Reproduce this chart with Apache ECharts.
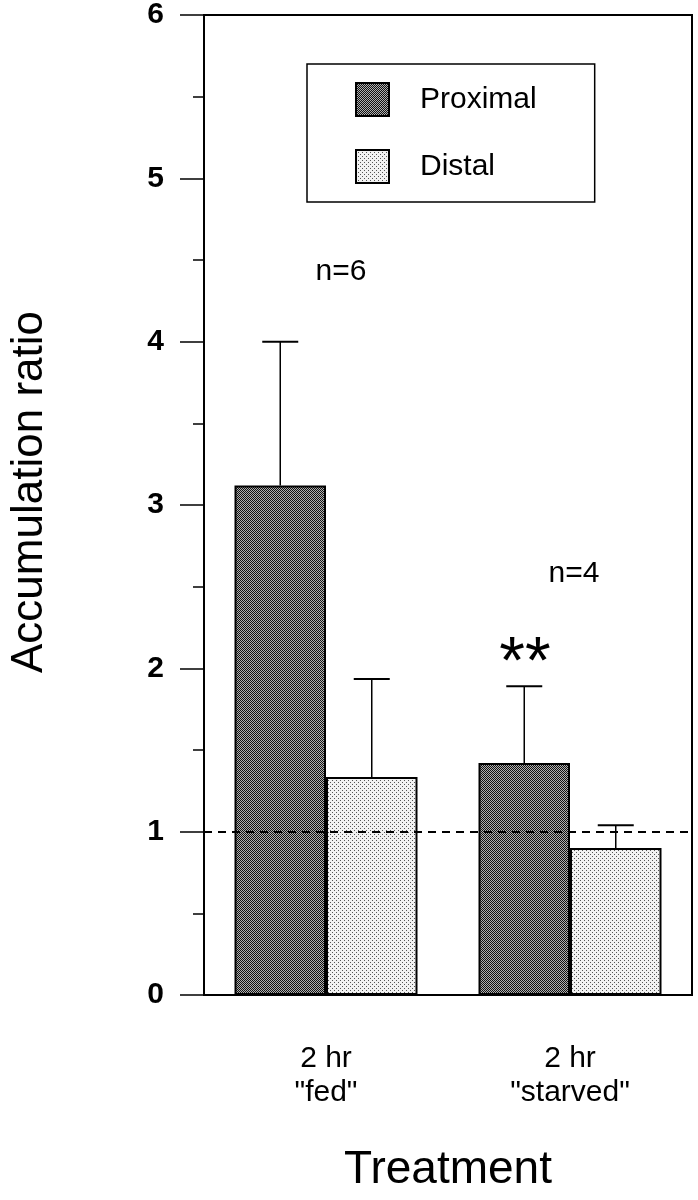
<!DOCTYPE html>
<html>
<head>
<meta charset="utf-8">
<script src="https://cdn.jsdelivr.net/npm/echarts@6/dist/echarts.min.js"></script>
<style>
  html, body { margin: 0; padding: 0; background: #fff; }
  #chart { width: 698px; height: 1200px; }
</style>
</head>
<body>
<div id="chart"></div>
<script>
// data
const categories = ['2 hr\n"fed"', '2 hr\n"starved"'];
const proximal = [3.12, 1.42];
const distal = [1.335, 0.9];
const proximalUpper = [4.0, 1.89];
const distalUpper = [1.935, 1.04];
const yTicks = [0, 1, 2, 3, 4, 5, 6];
const notes = [[0, 4.43, 'n=6'], [1, 2.58, 'n=4']];
const stars = [[1, 2.11, '**']];

const FONT = '"Liberation Sans", Arial, sans-serif';

// halftone-like fills
function makePattern(dark) {
  const c = document.createElement('canvas');
  c.width = 4; c.height = 4;
  const ctx = c.getContext('2d');
  ctx.fillStyle = dark ? '#b0b0b0' : '#f2f2f2';
  ctx.fillRect(0, 0, 4, 4);
  ctx.fillStyle = dark ? '#111' : '#555';
  for (let y = 0; y < 4; y++) {
    for (let x = 0; x < 4; x++) {
      if (dark ? (x + y) % 2 === 0 : (x === 0 && y === 0) || (x === 2 && y === 2)) {
        ctx.fillRect(x, y, 1, 1);
      }
    }
  }
  return { image: c, repeat: 'repeat' };
}

const chart = echarts.init(document.getElementById('chart'));

function errorSeries(name, means, uppers, side) {
  return {
    type: 'custom',
    name: name + ' err',
    silent: true,
    z: 3,
    data: means.map((m, i) => [i, uppers[i], m]),
    encode: { x: 0, y: 1 },
    renderItem(params, api) {
      const band = api.size([1, 0])[0];
      const off = band * 0.1875 * side;
      const top = api.coord([api.value(0), api.value(1)]);
      const base = api.coord([api.value(0), api.value(2)]);
      const x = top[0] + off;
      const cap = 18;
      return {
        type: 'group',
        children: [
          { type: 'line', shape: { x1: x, y1: base[1], x2: x, y2: top[1] }, style: { stroke: '#000', lineWidth: 1.5 } },
          { type: 'line', shape: { x1: x - cap, y1: top[1], x2: x + cap, y2: top[1] }, style: { stroke: '#000', lineWidth: 2 } }
        ]
      };
    }
  };
}

const option = {
  backgroundColor: '#fff',
  animation: false,
  textStyle: { fontFamily: FONT, color: '#000' },
  grid: {
    left: 204, right: 6, top: 15, bottom: 205,
    containLabel: false, outerBoundsMode: 'none',
    show: true, borderColor: '#000', borderWidth: 2, backgroundColor: 'transparent'
  },
  legend: {
    orient: 'vertical',
    left: 307, top: 64,
    padding: [18, 58, 18, 48],
    icon: 'rect',
    itemWidth: 33, itemHeight: 33, itemGap: 32,
    borderColor: '#000', borderWidth: 1.5,
    data: ['Proximal', 'Distal'],
    textStyle: { fontFamily: FONT, fontSize: 30, color: '#000', padding: [0, 0, 0, 26] }
  },
  xAxis: {
    type: 'category',
    data: categories,
    axisLine: { lineStyle: { color: '#000', width: 2 } },
    axisTick: { length: 25, lineStyle: { color: '#000', width: 1.5 } },
    axisLabel: { fontFamily: FONT, fontSize: 30, lineHeight: 34, color: '#000', margin: 47 },
    name: 'Treatment',
    nameLocation: 'middle',
    nameGap: 152,
    nameTextStyle: { fontFamily: FONT, fontSize: 46, color: '#000' }
  },
  yAxis: {
    type: 'value',
    min: yTicks[0], max: yTicks[yTicks.length - 1], interval: 1,
    axisLine: { show: true, lineStyle: { color: '#000', width: 2 } },
    axisTick: { show: true, length: 24, lineStyle: { color: '#000', width: 1.5 } },
    minorTick: { show: true, splitNumber: 2, length: 11, lineStyle: { color: '#000', width: 1.5 } },
    splitLine: { show: false },
    axisLabel: { fontFamily: FONT, fontSize: 30, fontWeight: 'bold', color: '#000', margin: 40 },
    name: 'Accumulation ratio',
    nameLocation: 'middle',
    nameGap: 152,
    nameTextStyle: { fontFamily: FONT, fontSize: 44, color: '#000', padding: [0, 0, 0, 26] }
  },
  series: [
    {
      name: 'Proximal', type: 'bar', data: proximal,
      barWidth: '37.5%', barGap: '0%',
      itemStyle: { color: makePattern(true), borderColor: '#000', borderWidth: 2 },
      markLine: {
        silent: true, symbol: 'none',
        label: { show: false },
        lineStyle: { color: '#000', width: 2, type: [8, 6] },
        data: [{ yAxis: 1 }]
      }
    },
    {
      name: 'Distal', type: 'bar', data: distal,
      barWidth: '37.5%', barGap: '0%',
      itemStyle: { color: makePattern(false), borderColor: '#000', borderWidth: 2 }
    },
    errorSeries('Proximal', proximal, proximalUpper, -1),
    errorSeries('Distal', distal, distalUpper, 1),
    {
      type: 'scatter', silent: true, symbolSize: 0,
      itemStyle: { opacity: 1 },
      data: notes.map((d, i) => ({ value: d, label: { offset: [i === 0 ? 15 : 4, 0] } })),
      label: {
        show: true, position: 'inside', formatter: p => p.value[2],
        fontFamily: FONT, fontSize: 30, color: '#000', opacity: 1
      }
    },
    {
      type: 'scatter', silent: true, symbolSize: 0,
      itemStyle: { opacity: 1 },
      data: stars,
      label: {
        show: true, position: 'inside', offset: [-45, 14], formatter: p => p.value[2],
        fontFamily: FONT, fontSize: 66, color: '#000', opacity: 1
      }
    }
  ]
};

chart.setOption(option);
</script>
</body>
</html>
